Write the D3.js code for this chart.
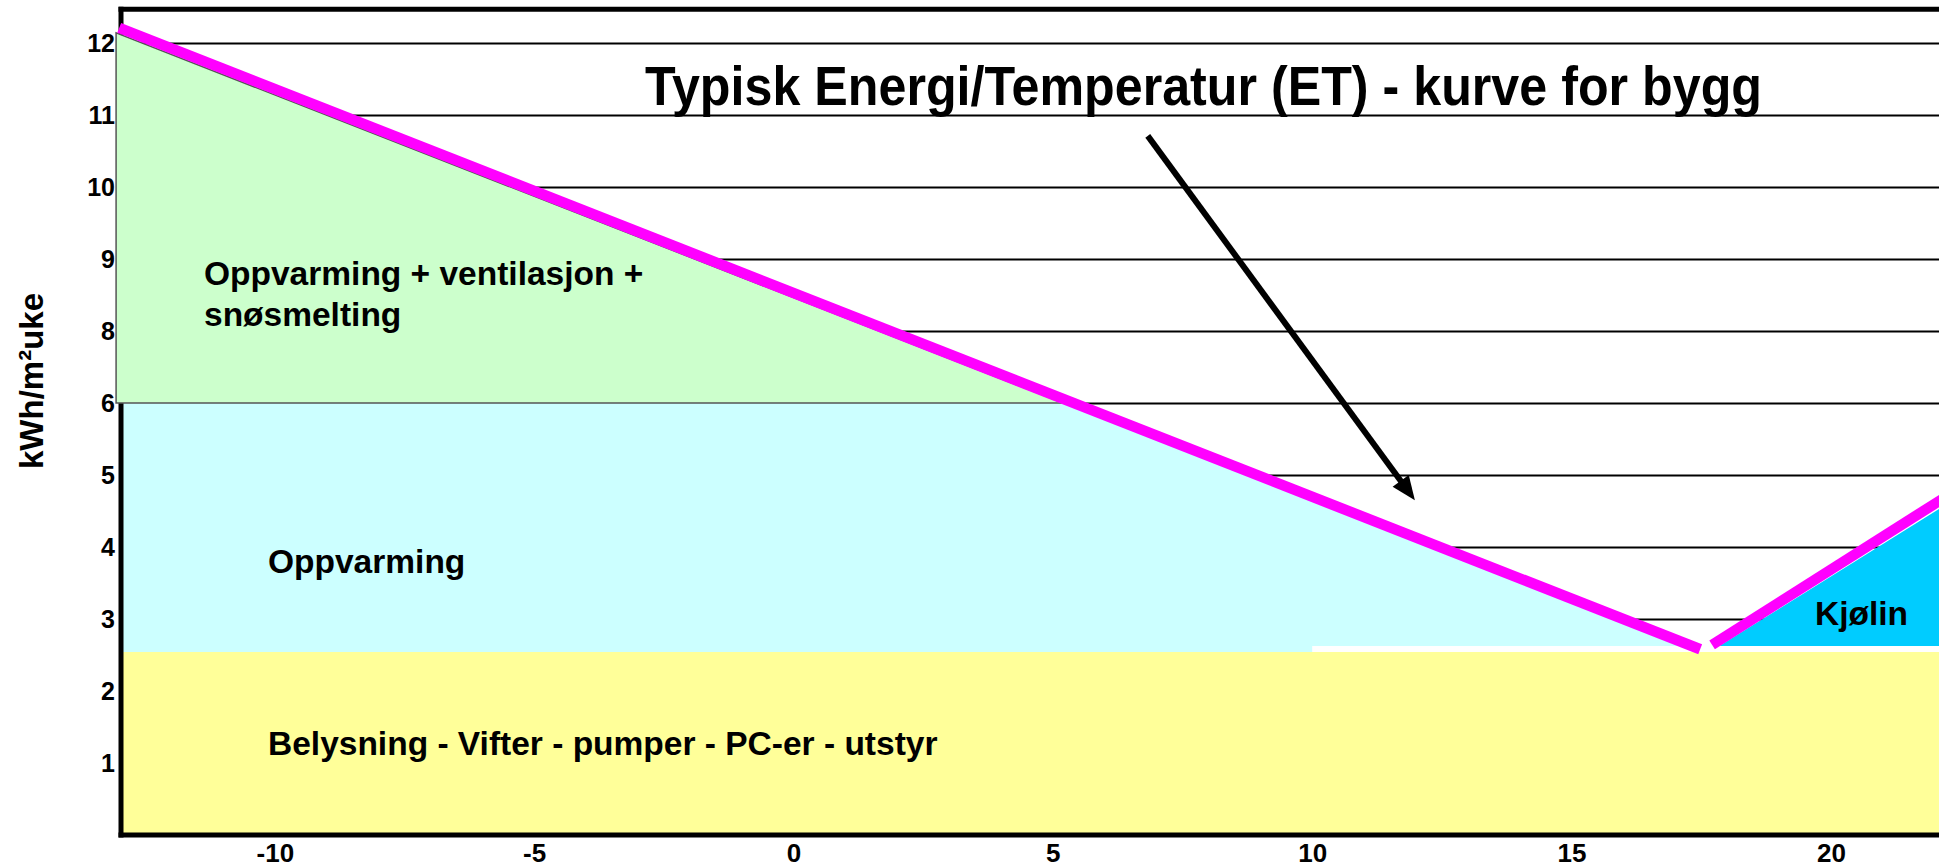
<!DOCTYPE html>
<html>
<head>
<meta charset="utf-8">
<script src="https://cdn.jsdelivr.net/npm/d3@7"></script>
<style>
  html, body { margin: 0; padding: 0; background: #fff; }
  svg { display: block; }
  text { font-family: "Liberation Sans", Arial, sans-serif; font-weight: bold; fill: #000; }
</style>
</head>
<body>
<svg id="chart" width="1939" height="868"></svg>
<script>
// ---- data (outdoor temperature t in °C, energy e in kWh/m²uke) ----
const xTicks = [-10, -5, 0, 5, 10, 15, 20];
const yTicks = [1, 2, 3, 4, 5, 6, 8, 9, 10, 11, 12];
const yTickLabels = ["1", "2", "3", "4", "5", "6", "8", "9", "10", "11", "12"];

// areas as [t, e] vertices
const baseArea    = [[-13, 0], [-13, 2.54], [22.2, 2.54], [22.2, 0]];
const heatingArea = [[-13, 2.54], [-13, 6], [5.2, 6], [17.1, 2.625], [10, 2.625], [10, 2.54]];
const snowArea    = [[-13.06, 6], [-13.06, 12.14], [5.2, 6]];
const coolingArea = [[17.85, 2.625], [22.2, 4.58], [22.2, 2.625]];

// ET curve (two arms)
const etHeating = [[-13, 12.21], [17.48, 2.58]];
const etCooling = [[17.71, 2.64], [22.2, 4.69]];

// annotation arrow [t, e] start -> tip
const arrowPts = [[6.83, 10.71], [11.98, 4.65]];

const labels = [
  { text: "Oppvarming + ventilasjon +", px: 204, py: 285 },
  { text: "snøsmelting", px: 204, py: 326 },
  { text: "Oppvarming", px: 268, py: 573 },
  { text: "Belysning - Vifter - pumper - PC-er - utstyr", px: 268, py: 755 },
  { text: "Kjølin", px: 1815, py: 625 }
];

// ---- scales ----
const x = d3.scaleLinear().domain([-13, 22.1]).range([119.2, 1939.8]);
// axis labels skip 7, so the value axis is piecewise
const y = d3.scaleLinear().domain([0, 6, 8, 12.5]).range([835, 403, 331, 7]);

const svg = d3.select("#chart");
const line = d3.line().x(d => x(d[0])).y(d => y(d[1]));
const poly = pts => line(pts) + "Z";

// gridlines
svg.append("g")
  .attr("transform", `translate(${x(-13)},0)`)
  .call(d3.axisLeft(y).tickValues(yTicks).tickSize(-(1939 - x(-13))).tickFormat(""))
  .call(g => g.select(".domain").remove())
  .call(g => g.selectAll("line").attr("stroke", "#000").attr("stroke-width", 1.8));

// areas
svg.append("path").attr("d", poly(baseArea)).attr("fill", "#FFFF99");
svg.append("path").attr("d", poly(heatingArea)).attr("fill", "#CCFFFF");
svg.append("path").attr("d", poly(coolingArea)).attr("fill", "#00CCFF");

// frame: left axis, bottom axis, top border
const x0 = x(-13) + 1.8;
svg.append("line").attr("x1", x0).attr("x2", x0).attr("y1", y(12.47) - 2.5).attr("y2", y(0) + 2.5)
  .attr("stroke", "#000").attr("stroke-width", 5);
svg.append("line").attr("x1", x0 - 2.5).attr("x2", 1939).attr("y1", y(0)).attr("y2", y(0))
  .attr("stroke", "#000").attr("stroke-width", 5);
svg.append("line").attr("x1", x0 - 2.5).attr("x2", 1939).attr("y1", y(12.47)).attr("y2", y(12.47))
  .attr("stroke", "#000").attr("stroke-width", 5);

// snow-melting area drawn over the axis (as in the original)
svg.append("path").attr("d", poly(snowArea)).attr("fill", "#CCFFCC")
  .attr("stroke", "#555").attr("stroke-width", 1.5);

// ET curve
svg.append("path").attr("d", line(etHeating)).attr("stroke", "#FF00FF").attr("stroke-width", 10.5).attr("fill", "none");
svg.append("path").attr("d", line(etCooling)).attr("stroke", "#FF00FF").attr("stroke-width", 10.5).attr("fill", "none");

// arrow
{
  const [sx, sy] = [x(arrowPts[0][0]), y(arrowPts[0][1])];
  const [tx, ty] = [x(arrowPts[1][0]), y(arrowPts[1][1])];
  const ang = Math.atan2(ty - sy, tx - sx);
  const headLen = 24, headW = 10;
  const bx = tx - headLen * Math.cos(ang), by = ty - headLen * Math.sin(ang);
  svg.append("line").attr("x1", sx).attr("y1", sy).attr("x2", bx + 3 * Math.cos(ang)).attr("y2", by + 3 * Math.sin(ang))
    .attr("stroke", "#000").attr("stroke-width", 6);
  const px = -Math.sin(ang), py = Math.cos(ang);
  svg.append("path")
    .attr("d", `M${tx},${ty}L${bx + headW * px},${by + headW * py}L${bx - headW * px},${by - headW * py}Z`)
    .attr("fill", "#000");
}

// y axis tick labels
svg.append("g")
  .attr("transform", `translate(${x0},0)`)
  .call(d3.axisLeft(y).tickValues(yTicks).tickSize(0).tickPadding(6)
    .tickFormat((d, i) => yTickLabels[i]))
  .call(g => g.select(".domain").remove())
  .call(g => g.selectAll("text").style("font-size", "25px").attr("fill", "#000"));

// x axis tick labels
svg.append("g")
  .attr("transform", `translate(0,${y(0)})`)
  .call(d3.axisBottom(x).tickValues(xTicks).tickSize(0).tickPadding(9).tickFormat(d => String(d)))
  .call(g => g.select(".domain").remove())
  .call(g => g.selectAll("text").style("font-size", "26px").attr("fill", "#000"));

// y axis title
svg.append("text")
  .attr("transform", "translate(43,381) rotate(-90)")
  .attr("text-anchor", "middle")
  .style("font-size", "33px")
  .text("kWh/m²uke");

// title
svg.append("text")
  .attr("x", 645).attr("y", 105)
  .style("font-size", "56px")
  .attr("textLength", 1117).attr("lengthAdjust", "spacingAndGlyphs")
  .text("Typisk Energi/Temperatur (ET) - kurve for bygg");

// region labels
svg.selectAll("text.region").data(labels).enter().append("text")
  .attr("class", "region")
  .attr("x", d => d.px).attr("y", d => d.py)
  .style("font-size", "33.5px")
  .text(d => d.text);
</script>
</body>
</html>
